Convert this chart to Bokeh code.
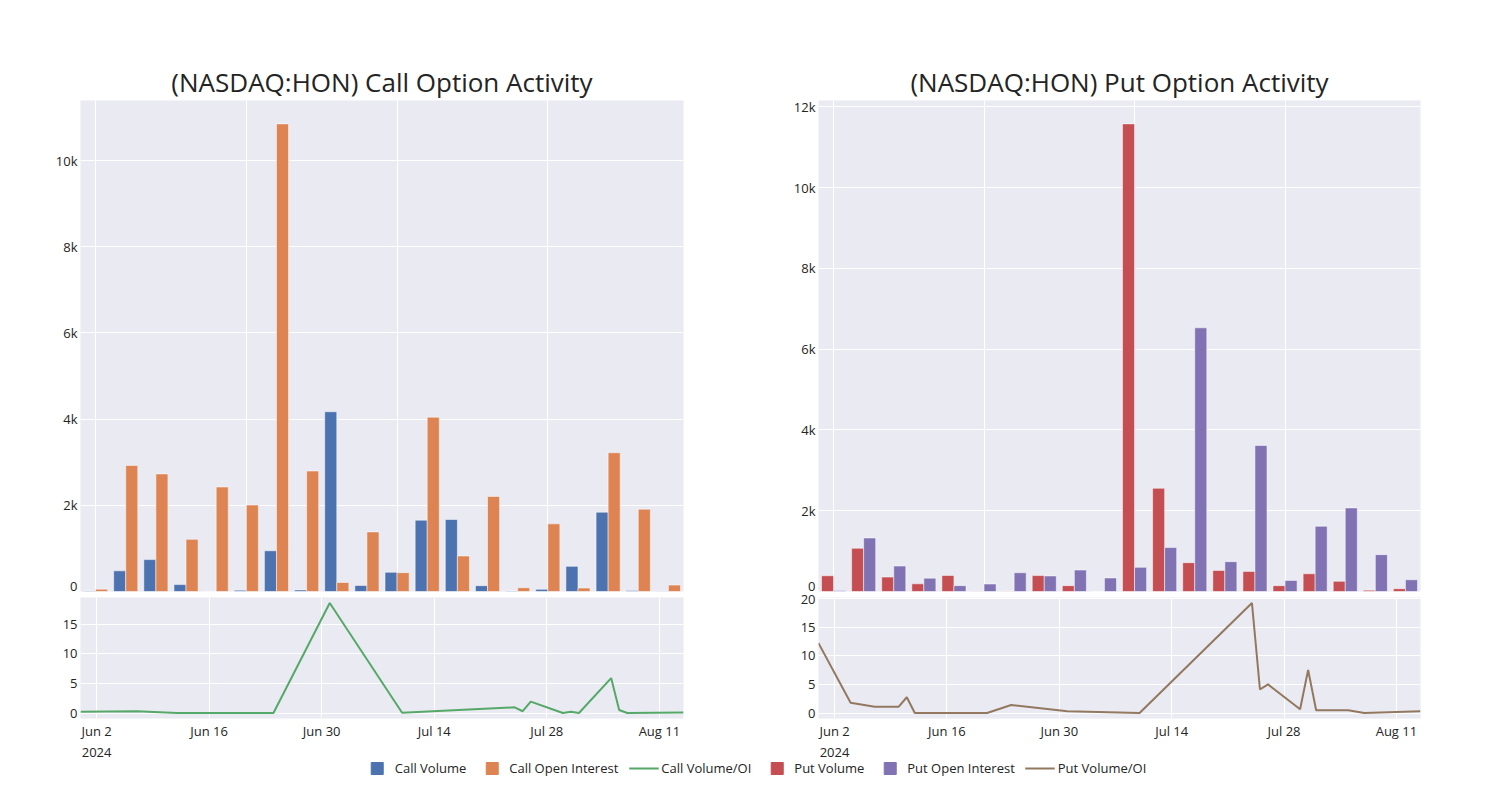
import numpy as np
import pandas as pd
from bokeh.plotting import figure
from bokeh.layouts import row, column
from bokeh.models import (Range1d, DataRange1d, SingleIntervalTicker, FixedTicker, Grid,
                          NumeralTickFormatter, DatetimeTickFormatter, Legend, LegendItem,
                          ColumnDataSource)
from bokeh.transform import dodge
from bokeh.embed import file_html
from bokeh.resources import INLINE

# ---------------- data ----------------
groups = list(range(20))
call_volume = [10, 480, 740, 160, 0, 30, 945, 35, 4170, 140, 445, 1655, 1670, 135, 12, 50, 583, 1840, 22, 8]
call_oi = [55, 2925, 2728, 1210, 2425, 2005, 10850, 2795, 210, 1383, 437, 4045, 823, 2206, 88, 1570, 80, 3220, 1910, 148]
put_volume = [390, 1070, 357, 190, 398, 8, 8, 395, 145, 0, 11580, 2556, 714, 523, 498, 145, 440, 252, 33, 70]
put_oi = [25, 1325, 631, 330, 145, 185, 465, 385, 531, 335, 598, 1087, 6530, 739, 3615, 275, 1615, 2070, 913, 290]

call_ratio_dates = ["2024-05-31", "2024-06-07", "2024-06-12", "2024-06-24", "2024-07-01", "2024-07-10",
                    "2024-07-24", "2024-07-25", "2024-07-26", "2024-07-30", "2024-07-31", "2024-08-01",
                    "2024-08-05", "2024-08-06", "2024-08-07", "2024-08-14"]
call_ratio = [0.23, 0.28, 0.0, 0.0, 18.6, 0.05, 0.96, 0.3, 1.92, 0.0, 0.2, 0.0, 5.9, 0.5, 0.0, 0.07]

put_ratio_dates = ["2024-05-31", "2024-06-04", "2024-06-07", "2024-06-10", "2024-06-11", "2024-06-12",
                   "2024-06-21", "2024-06-24", "2024-07-01", "2024-07-10", "2024-07-24", "2024-07-25",
                   "2024-07-26", "2024-07-30", "2024-07-31", "2024-08-01", "2024-08-05", "2024-08-07",
                   "2024-08-14"]
put_ratio = [12.2, 1.8, 1.1, 1.1, 2.75, 0.0, 0.0, 1.4, 0.3, 0.0, 19.2, 4.1, 5.0, 0.65, 7.5, 0.47, 0.47, 0.0, 0.3]

date_ticks = ["2024-06-02", "2024-06-16", "2024-06-30", "2024-07-14", "2024-07-28", "2024-08-11"]

titles = ["(NASDAQ:HON) Call Option Activity", "(NASDAQ:HON) Put Option Activity"]
legend_labels = ["Call Volume", "Call Open Interest", "Call Volume/OI",
                 "Put Volume", "Put Open Interest", "Put Volume/OI"]

# ---------------- style ----------------
BG = "#EAEAF2"
TXT = "#242424"
FONT = "Open Sans"
C_BLUE, C_ORANGE, C_GREEN = "#4C72B0", "#DD8452", "#55A868"
C_RED, C_PURPLE, C_BROWN = "#C44E52", "#8172B3", "#937860"

tick_ms = [float(v) for v in (pd.to_datetime(date_ticks).astype("int64") // 10**6)]


def style_axes(p):
    for ax in p.axis:
        ax.axis_line_color = None
        ax.major_tick_line_color = None
        ax.minor_tick_line_color = None
        ax.major_tick_out = 0
        ax.major_tick_in = 0
        ax.minor_tick_out = 0
        ax.minor_tick_in = 0
        ax.major_label_text_font = FONT
        ax.major_label_text_font_size = "13px"
        ax.major_label_text_color = TXT
        ax.major_label_standoff = 3
    p.grid.grid_line_color = "white"
    p.grid.grid_line_width = 1
    p.background_fill_color = BG
    p.border_fill_color = "white"
    p.outline_line_color = None


def bar_fig(title, a, b, ca, cb, bl, br, w):
    src = ColumnDataSource(dict(g=groups, a=a, b=b))
    p = figure(width=w, height=594, x_range=Range1d(-0.5, 19.5),
               y_range=Range1d(0, max(a + b) * 1.05), x_axis_location=None,
               output_backend="svg", toolbar_location=None, title=title,
               min_border_left=bl, min_border_right=br, min_border_top=100, min_border_bottom=3)
    p.add_layout(Grid(dimension=0, ticker=SingleIntervalTicker(interval=5),
                      grid_line_color="white", grid_line_width=1))
    p.vbar(x=dodge("g", -0.2), top="a", width=0.4, source=src, fill_color=ca,
           line_color="white", line_alpha=0.5, line_width=1)
    p.vbar(x=dodge("g", 0.2), top="b", width=0.4, source=src, fill_color=cb,
           line_color="white", line_alpha=0.5, line_width=1)
    p.yaxis.ticker = SingleIntervalTicker(interval=2000)
    p.yaxis.formatter = NumeralTickFormatter(format="0a")
    style_axes(p)
    p.title.text_font = FONT
    p.title.text_font_size = "26px"
    p.title.text_font_style = "normal"
    p.title.text_color = TXT
    p.title.align = "center"
    p.title.standoff = 2
    return p


def line_fig(dates, vals, color, bl, br, w):
    p = figure(width=w, height=170, x_axis_type="datetime",
               x_range=DataRange1d(range_padding=0), y_range=DataRange1d(range_padding=0.1),
               output_backend="svg", toolbar_location=None,
               min_border_left=bl, min_border_right=br, min_border_top=3, min_border_bottom=38)
    p.line(x=pd.to_datetime(dates), y=vals, line_color=color, line_width=2)
    p.xaxis.ticker = FixedTicker(ticks=tick_ms)
    p.xaxis.formatter = DatetimeTickFormatter(days="%b %-d", months="%b %-d",
                                              context="%Y", context_which="start")
    p.yaxis.ticker = SingleIntervalTicker(interval=5)
    style_axes(p)
    return p


tl = bar_fig(titles[0], call_volume, call_oi, C_BLUE, C_ORANGE, 80, 67, 750)
bl = line_fig(call_ratio_dates, call_ratio, C_GREEN, 80, 67, 750)
tr = bar_fig(titles[1], put_volume, put_oi, C_RED, C_PURPLE, 68, 72, 742)
br = line_fig(put_ratio_dates, put_ratio, C_BROWN, 68, 72, 742)

# ---------------- legend ----------------
lf = figure(width=1492, height=20, x_range=Range1d(0, 1), y_range=Range1d(0, 1),
            x_axis_location=None, y_axis_location=None, output_backend="svg",
            toolbar_location=None, min_border=0, min_border_left=16, outline_line_color=None,
            margin=(-6, 0, 0, 0))
lf.grid.visible = False
lf.background_fill_alpha = 0
lf.border_fill_alpha = 0
nan = [np.nan]
items = []
for lab, col, kind in zip(legend_labels,
                          [C_BLUE, C_ORANGE, C_GREEN, C_RED, C_PURPLE, C_BROWN],
                          ["sq", "sq", "ln", "sq", "sq", "ln"]):
    if kind == "sq":
        r = lf.scatter(x=nan, y=nan, marker="square", size=12, fill_color=col, line_color=col)
    else:
        r = lf.line(x=nan, y=nan, line_color=col, line_width=2)
    items.append(LegendItem(label=lab, renderers=[r]))
leg = Legend(items=items, orientation="horizontal", location="center", glyph_width=30,
             glyph_height=30, label_standoff=3, spacing=10, padding=0, margin=0,
             border_line_alpha=0, background_fill_alpha=0, label_text_font=FONT,
             label_text_font_size="13px", label_text_color=TXT, label_height=16)
lf.add_layout(leg, "center")

layout = column(row(column(tl, bl), column(tr, br)), lf)
open("out.html", "w").write(file_html(layout, INLINE))
